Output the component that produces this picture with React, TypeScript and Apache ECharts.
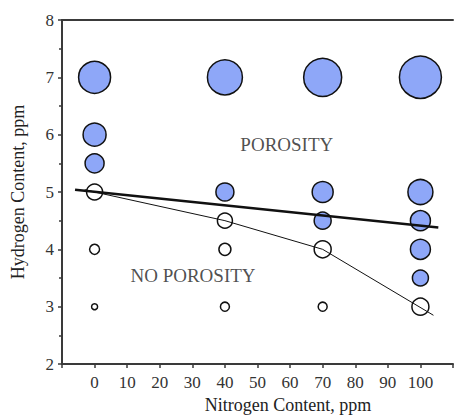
import React, { useEffect, useRef } from "react";
import * as echarts from "echarts";

const porousX = [0, 0, 0, 40, 40, 70, 70, 70, 100, 100, 100, 100, 100];
const porousY = [7, 6, 5.5, 7, 5, 7, 5, 4.5, 7, 5, 4.5, 4, 3.5];
const porousSize = [32, 23, 19, 35, 18, 38, 21, 17, 42, 25, 20, 20, 16];

const soundX = [0, 0, 0, 40, 40, 40, 70, 70, 100];
const soundY = [5, 4, 3, 4.5, 4, 3, 4, 3, 3];
const soundSize = [16, 10, 6, 15, 12, 9, 17, 9, 17];

const thickLineX = [-6, 105.5];
const thickLineY = [5.04, 4.38];
const thinLineX = [-3, 0, 40, 70, 104];
const thinLineY = [5.04, 5, 4.5, 4, 2.85];

const annotations = [
  { text: "POROSITY", x: 59, y: 5.82 },
  { text: "NO POROSITY", x: 30.2, y: 3.54 },
];

const FONT = "'Liberation Serif', 'DejaVu Serif', serif";

export default function App() {
  const ref = useRef<HTMLDivElement>(null);
  useEffect(() => {
    if (!ref.current) return;
    const chart = echarts.init(ref.current, undefined, { renderer: "svg" });
    const axisColor = "#3a3a3a";
    chart.setOption({
      animation: false,
      backgroundColor: "#ffffff",
      grid: { left: 62, top: 20, width: 402, height: 344, containLabel: false },
      xAxis: [
        {
          type: "value",
          min: -10,
          max: 110,
          interval: 10,
          position: "bottom",
          axisLine: { show: true, onZero: false, lineStyle: { color: axisColor, width: 2 } },
          axisTick: { show: true, length: 4, lineStyle: { color: axisColor, width: 1.5 } },
          axisLabel: {
            color: "#333",
            fontFamily: FONT,
            fontSize: 17,
            margin: 10,
            formatter: (v: number) => (v < 0 || v > 100 ? "" : String(v)),
          },
          splitLine: { show: false },
        },
        {
          type: "value",
          min: -10,
          max: 110,
          position: "top",
          axisLine: { show: true, onZero: false, lineStyle: { color: axisColor, width: 2 } },
          axisTick: { show: false },
          axisLabel: { show: false },
          splitLine: { show: false },
        },
      ],
      yAxis: {
        type: "value",
        min: 2,
        max: 8,
        interval: 1,
        name: "Hydrogen Content, ppm",
        nameLocation: "middle",
        nameGap: 35,
        nameTextStyle: { color: "#222", fontFamily: FONT, fontSize: 18 },
        axisLine: { show: true, onZero: false, lineStyle: { color: axisColor, width: 2 } },
        axisTick: { show: true, length: 4, lineStyle: { color: axisColor, width: 1.5 } },
        minorTick: { show: true, splitNumber: 2, length: 3, lineStyle: { color: axisColor, width: 1.5 } },
        axisLabel: { color: "#333", fontFamily: FONT, fontSize: 17, margin: 8 },
        splitLine: { show: false },
        minorSplitLine: { show: false },
      },
      graphic: [
        {
          type: "text",
          x: 288,
          y: 405,
          style: {
            text: "Nitrogen Content, ppm",
            fill: "#222",
            font: `18px ${FONT}`,
            textAlign: "center",
            textVerticalAlign: "middle",
          },
        },
      ],
      series: [
        {
          type: "scatter",
          z: 2,
          data: porousX.map((x, i) => [x, porousY[i], porousSize[i]]),
          symbol: "circle",
          symbolSize: (d: number[]) => d[2],
          itemStyle: { color: "#8ea7f8", borderColor: "#111", borderWidth: 1.5, opacity: 1 },
        },
        {
          type: "scatter",
          z: 2,
          data: soundX.map((x, i) => [x, soundY[i], soundSize[i]]),
          symbol: "circle",
          symbolSize: (d: number[]) => d[2],
          itemStyle: { color: "#ffffff", borderColor: "#111", borderWidth: 1.5, opacity: 1 },
        },
        {
          type: "line",
          z: 4,
          data: thickLineX.map((x, i) => [x, thickLineY[i]]),
          showSymbol: false,
          symbol: "none",
          lineStyle: { color: "#111", width: 2.5 },
        },
        {
          type: "line",
          z: 4,
          data: thinLineX.map((x, i) => [x, thinLineY[i]]),
          showSymbol: false,
          symbol: "none",
          lineStyle: { color: "#111", width: 1 },
        },
        {
          type: "scatter",
          z: 5,
          data: annotations.map((a) => ({ value: [a.x, a.y], name: a.text })),
          symbolSize: 0,
          label: {
            show: true,
            position: "inside",
            formatter: (p: any) => p.name,
            color: "#222",
            fontFamily: FONT,
            fontSize: 19,
          },
        },
      ],
    });
    return () => chart.dispose();
  }, []);
  return <div ref={ref} style={{ width: 456, height: 416, position: "absolute", left: 0, top: 0 }} />;
}
